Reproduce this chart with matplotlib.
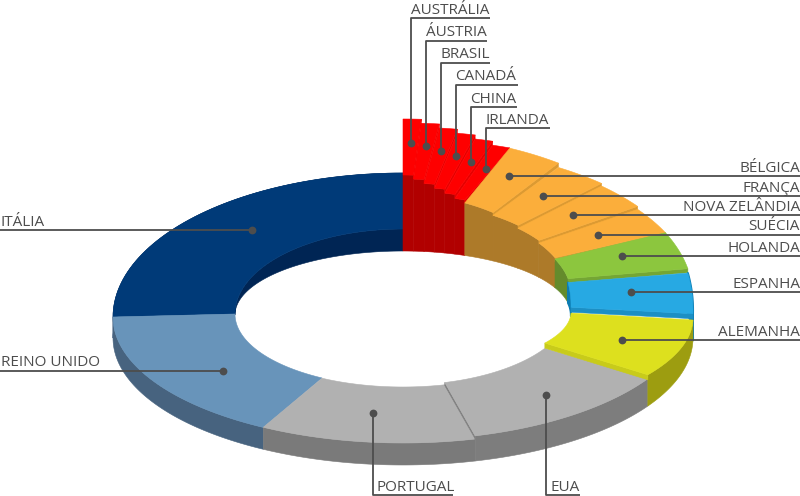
import numpy as np
import matplotlib
matplotlib.use('Agg')
import matplotlib.pyplot as plt

countries = ['AUSTRÁLIA', 'ÁUSTRIA', 'BRASIL', 'CANADÁ', 'CHINA', 'IRLANDA',
             'BÉLGICA', 'FRANÇA', 'NOVA ZELÂNDIA', 'SUÉCIA', 'HOLANDA', 'ESPANHA',
             'ALEMANHA', 'EUA', 'PORTUGAL', 'REINO UNIDO', 'ITÁLIA']
shares = [1, 1, 1, 1, 1, 1, 3, 3, 3, 3, 4, 3.3, 8.7, 12, 12, 17, 25]

RED = ('#fe0000', '#b10000', '#e60000')
ORANGE = ('#fbae3b', '#ad7a29', '#dc9a32')
face = [RED] * 6 + [ORANGE] * 4 + [
    ('#8cc63e', '#648b2c', '#74a634'),
    ('#27a9e3', '#0c7cb2', '#1c8fc4'),
    ('#dde01e', '#9d9d10', '#c8cb1a'),
    ('#b1b1b1', '#7d7d7d', '#7f7f7f'),
    ('#b1b1b1', '#7a7a7a', '#7f7f7f'),
    ('#6894ba', '#47637f', '#47637f'),
    ('#003a78', '#002554', '#002554'),
]

# centre y / y radius of the outer and inner edge of each top face
shape = [(246, 127, 246, 71), (250, 127, 250, 71), (254, 127, 254, 71),
         (258, 127, 258, 71), (262, 127, 262, 71), (266, 127, 266, 71),
         (310, 174, 308, 113), (284, 138, 288, 86), (291, 144, 291, 86),
         (294, 144, 296, 90), (297, 151, 294, 82), (310, 197, 305, 120),
         (318, 106, 312, 58), (308, 132, 306, 79), (316, 127, 316, 71),
         (317, 126, 314, 73), (317, 144, 314, 85)]
# how far the side face at the end of a slice hangs down
side = [4, 4, 4, 4, 4, 4, 4, 4, 4, 4, 4, 5, 5, 3, 0, 0, 0]
draw_order = [16, 0, 1, 2, 3, 4, 5, 6, 7, 8, 9, 10, 11, 15, 14, 13, 12]

CX = 403
RX_OUT = 290
RX_IN = 168
BASE_CY, BASE_RY = 338, 127
HOLE_CY, HOLE_RY = 315, 64

# dot x, dot y, line end, text x
top_labels = [(411, 143, 18, 490), (426, 146, 40.5, 487), (441, 151, 62.5, 490),
              (455.5, 156, 84.5, 518), (470.5, 162, 107, 517), (485.5, 169, 128, 550)]
right_labels = [(509, 176), (542.5, 195.5), (572.5, 215), (598, 234.5),
                (622, 256), (631, 292), (622, 339.5)]
bottom_labels = [(546, 395, 580), (372.5, 412.5, 453)]
left_labels = [(223, 370.5), (252, 230)]

plt.rcParams['font.family'] = ['Open Sans', 'DejaVu Sans']
fig = plt.figure(figsize=(8, 4.96), dpi=100)
ax = fig.add_axes([0, 0, 1, 1])
ax.set_xlim(0, 800)
ax.set_ylim(496, 0)
ax.axis('off')


def edge(t, rx, cy, ry):
    a = np.radians(t)
    return CX + rx * np.sin(a), cy - ry * np.cos(a)


def poly(x1, y1, x2, y2, color, lw=0.4):
    ax.fill(np.r_[x1, x2[::-1]], np.r_[y1, y2[::-1]], fc=color, ec=color, lw=lw, joinstyle='round')


ends = np.cumsum(shares) * 3.6
starts = np.r_[0, ends[:-1]]

for i in draw_order:
    t = np.linspace(starts[i], ends[i], 60)
    top, wall, strip = face[i]
    cy_o, ry_o, cy_i, ry_i = shape[i]
    xo, yo = edge(t, RX_OUT, cy_o, ry_o)
    xi, yi = edge(t, RX_IN, cy_i, ry_i)
    wall_lw = 1.5 if countries[i] == 'ESPANHA' else 0.4

    # outer wall, only seen on the front half
    if ends[i] > 90:
        xb, yb = edge(t, RX_OUT, BASE_CY, BASE_RY)
        poly(xo, yo, xb, yb, wall, wall_lw)
    # inner wall, only seen on the back half
    if starts[i] >= 270 or ends[i] < 95:
        xh, yh = edge(t, RX_IN, HOLE_CY, HOLE_RY)
        poly(xi, yi, xh, yh, wall, wall_lw)
    if side[i]:
        poly(np.array([xo[-1], xi[-1]]), np.array([yo[-1], yi[-1]]),
             np.array([xo[-1], xi[-1]]), np.array([yo[-1], yi[-1]]) + side[i], strip)
    poly(xo, yo, xi, yi, top)

ink = '#4d4d4d'
names = iter(countries)


def dot(x, y):
    ax.plot([x], [y], 'o', color=ink, ms=5.6, mew=0, zorder=6)


def leader(xs, ys):
    ax.plot(xs, ys, color=ink, lw=1.3, zorder=5, solid_capstyle='butt')


for x, y, yl, xe in top_labels:
    leader([x, x, xe], [y, yl, yl])
    dot(x, y)
    ax.text(x, yl - 4, next(names), color=ink, fontsize=11, ha='left', va='baseline')
for x, y in right_labels:
    leader([x, 800], [y, y])
    dot(x, y)
    ax.text(800, y - 4, next(names), color=ink, fontsize=11, ha='right', va='baseline')
for x, y, xe in bottom_labels:
    leader([x, x, xe], [y, 495, 495])
    dot(x, y)
    ax.text(x + 4, 491, next(names), color=ink, fontsize=11, ha='left', va='baseline')
for x, y in left_labels:
    leader([0, x], [y, y])
    dot(x, y)
    ax.text(1, y - 4, next(names), color=ink, fontsize=11, ha='left', va='baseline')

fig.savefig('out.png', dpi=100, facecolor='white')
